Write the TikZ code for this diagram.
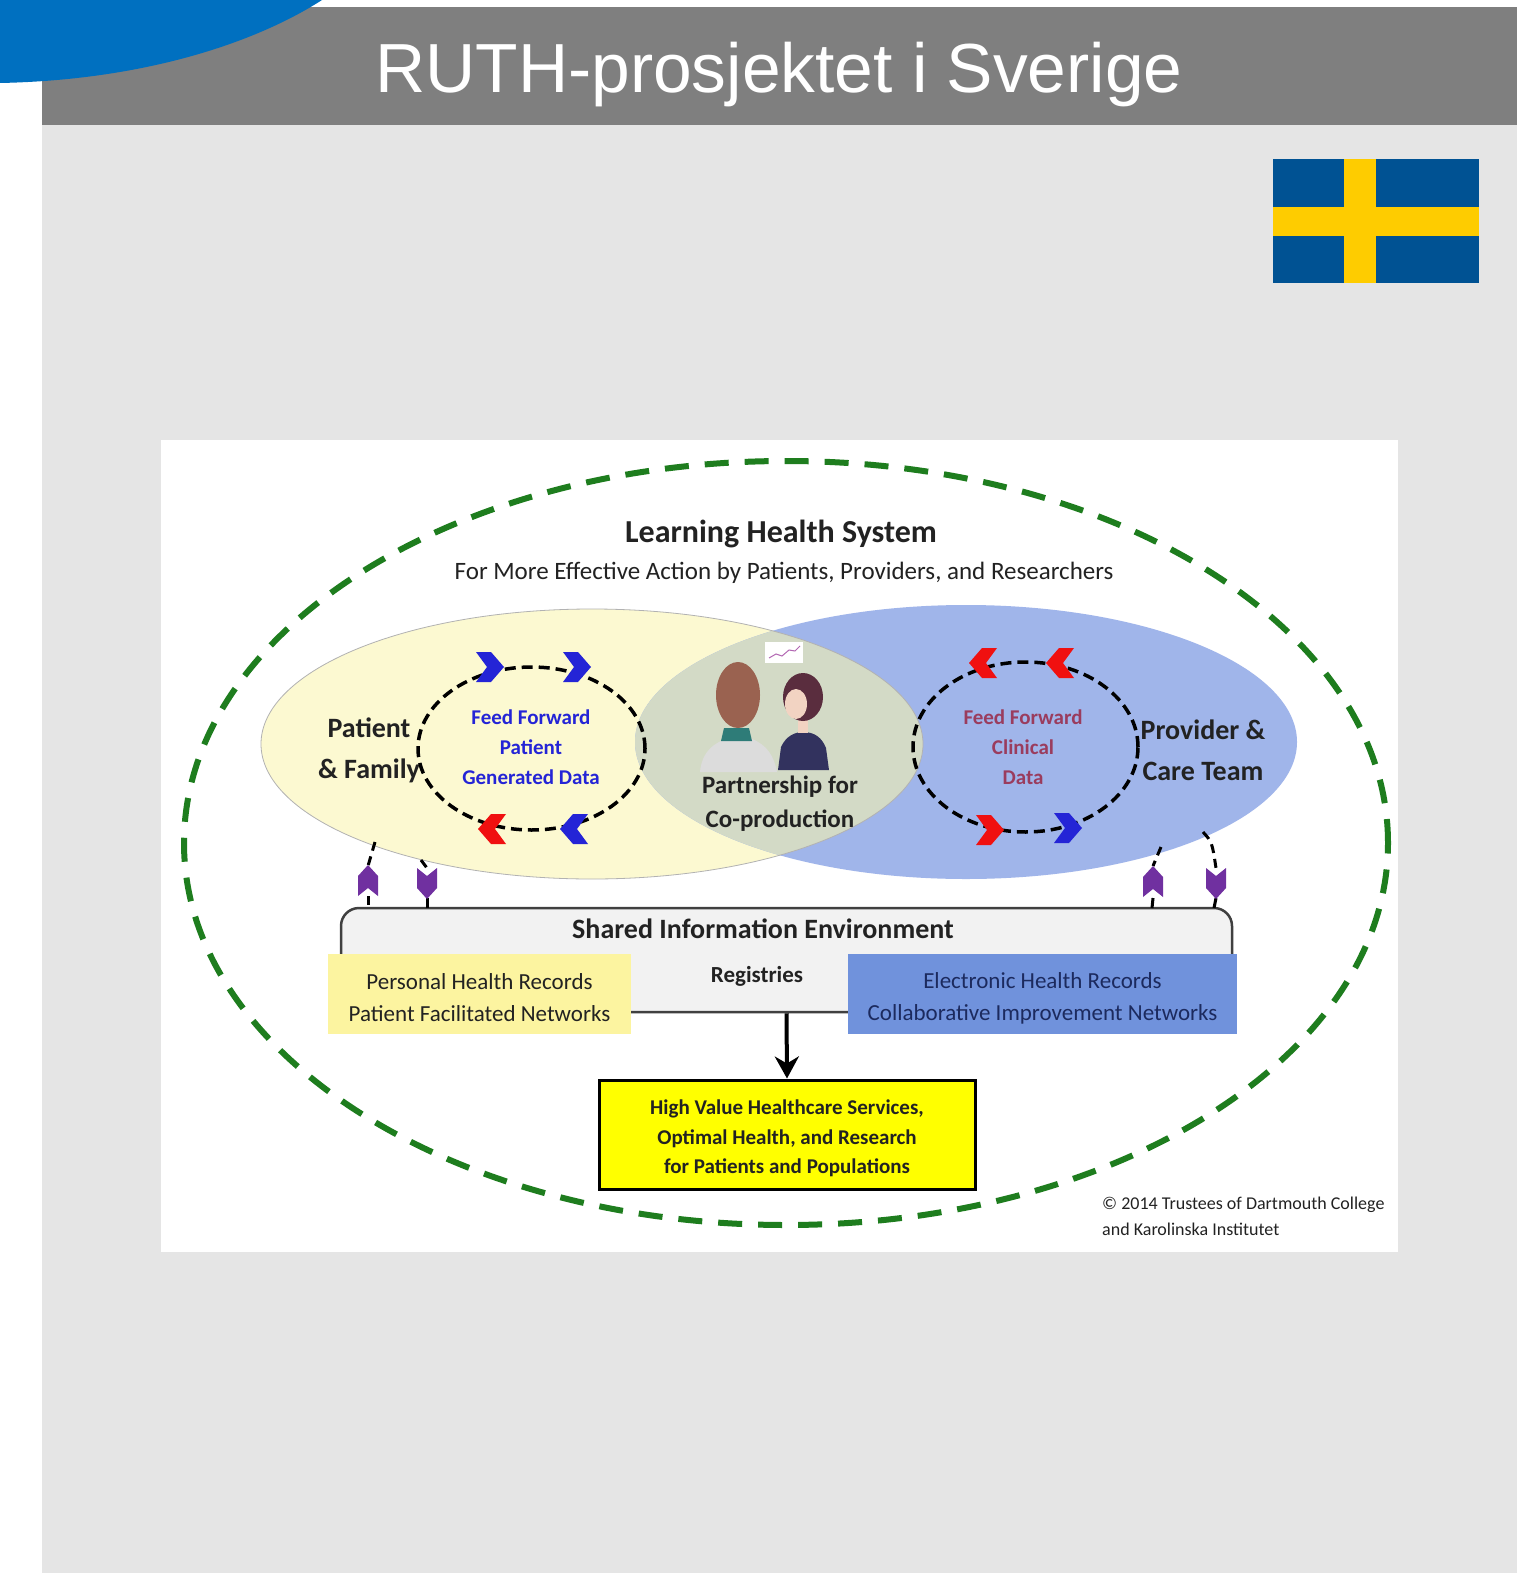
\documentclass[tikz,border=0pt]{standalone}
\usepackage{fontspec}
\setmainfont{Carlito}
\newfontfamily\titlefont{Liberation Sans}
\usetikzlibrary{arrows.meta}

\definecolor{pagegray}{HTML}{E5E5E5}
\definecolor{headgray}{HTML}{7F7F7F}
\definecolor{cornerblue}{HTML}{0070C0}
\definecolor{flagblue}{HTML}{005293}
\definecolor{flagyellow}{HTML}{FECC00}
\definecolor{lhsgreen}{HTML}{1E7D1E}
\definecolor{patfill}{HTML}{FCF9D1}
\definecolor{provfill}{HTML}{A0B5EA}
\definecolor{lensfill}{HTML}{D3DAC6}
\definecolor{phrfill}{HTML}{FCF4A0}
\definecolor{ehrfill}{HTML}{7092DC}
\definecolor{ehrtext}{HTML}{1C2A5E}
\definecolor{sienv}{HTML}{F2F2F2}
\definecolor{loopblue}{HTML}{2424D6}
\definecolor{loopred}{HTML}{F01010}
\definecolor{clinical}{HTML}{9A3C5E}
\definecolor{flowpurple}{HTML}{7030A0}
\definecolor{hairbrown}{HTML}{9A6250}
\definecolor{hairdark}{HTML}{5A2D3E}
\definecolor{skin}{HTML}{F2D3C2}
\definecolor{shirtgray}{HTML}{DCDCDC}
\definecolor{collarteal}{HTML}{2E7C78}
\definecolor{topnavy}{HTML}{32325E}
\definecolor{inktext}{HTML}{222222}
\definecolor{outcomeyellow}{HTML}{FFFF00}

\tikzset{
  boldtext/.style={font=\bfseries, text=inktext, align=center, inner sep=0pt},
  looptext/.style={font=\fontsize{21}{30}\selectfont\bfseries, align=center, inner sep=0pt},
  dataloop/.style={draw=black, line width=3.5pt, dash pattern=on 11pt off 6pt},
  purpleflow/.style={draw=black, line width=3pt, dash pattern=on 9pt off 6pt},
  purplesolid/.style={draw=black, line width=3pt},
  chevron/.pic={\fill (-14,-15) -- (1,-15) -- (14,0) -- (1,15) -- (-14,15) -- (-3,0) -- cycle;},
  flowarrow/.pic={\fill[flowpurple] (0,-16) -- (10,-5) -- (10,15) -- (0,7) -- (-10,15) -- (-10,-5) -- cycle;},
  recordbox/.style={minimum width=303pt, minimum height=80pt, inner sep=0pt, align=center,
    font=\fontsize{23}{32}\selectfont},
}

\begin{document}
\begin{tikzpicture}[x=1pt,y=-1pt]
\useasboundingbox (0,0) rectangle (1538,1573);
\fill[white] (0,0) rectangle (1538,1573);

% slide background and header
\fill[pagegray] (42,125) rectangle (1517,1573);
\fill[headgray] (42,7) rectangle (1517,125);
\fill[cornerblue] (0,0) -- (0,83) .. controls (150,80) and (260,40) .. (322,0) -- cycle;
\node[font=\titlefont\fontsize{69.5}{80}\selectfont, text=white, anchor=base, inner sep=0pt]
  (title) at (779,93) {RUTH-prosjektet i Sverige};

% Swedish flag
\fill[flagblue] (1273,159) rectangle (1479,283);
\fill[flagyellow] (1344,159) rectangle (1376,283);
\fill[flagyellow] (1273,207) rectangle (1479,236);

% diagram panel
\fill[white] (161,440) rectangle (1398,1252);

% learning health system boundary
\draw[lhsgreen, line width=6pt, dash pattern=on 24pt off 16pt] (786,843) ellipse [x radius=602pt, y radius=382pt];

\node[boldtext, font=\fontsize{32}{38}\selectfont\bfseries] (lhs) at (781,534) {Learning Health System};
\node[font=\fontsize{25}{30}\selectfont, text=inktext, inner sep=0pt] (lhssub) at (784,572.5)
  {For More Effective Action by Patients, Providers, and Researchers};

% patient and provider ellipses with their overlap
\fill[patfill] (592,744) ellipse [x radius=331pt, y radius=135pt];
\fill[provfill] (966,742) ellipse [x radius=331pt, y radius=137pt];
\begin{scope}
  \clip (592,744) ellipse [x radius=331pt, y radius=135pt];
  \fill[lensfill] (966,742) ellipse [x radius=331pt, y radius=137pt];
\end{scope}
\draw[gray!60, line width=0.8pt] (592,744) ellipse [x radius=331pt, y radius=135pt];

% people in partnership
\fill[white] (765,642) rectangle (803,663);
\draw[violet!60, line width=1pt] (769,658) -- (776,654) -- (782,656) -- (789,650) -- (795,651) -- (800,646);
\fill[shirtgray] (700,772) .. controls (702,750) and (716,741) .. (733,737) -- (752,739)
  .. controls (767,745) and (774,756) .. (777,772) -- cycle;
\fill[collarteal] (724,728) -- (749,728) -- (752,741) -- (721,741) -- cycle;
\fill[skin] (752,706) ellipse [x radius=6pt, y radius=9pt];
\fill[hairbrown] (738,695) ellipse [x radius=22pt, y radius=33pt];
\fill[topnavy] (778,770) -- (781,747) .. controls (786,736) and (795,732) .. (803,732)
  .. controls (815,732) and (822,738) .. (826,748) -- (829,770) -- cycle;
\fill[skin] (798,718) rectangle (808,733);
\fill[hairdark] (803,697) ellipse [x radius=20pt, y radius=24pt];
\fill[skin] (796,704) ellipse [x radius=11pt, y radius=15pt];

\node[boldtext, font=\fontsize{25}{34}\selectfont\bfseries] (coprod) at (780,804)
  {Partnership for\\Co-production};

% patient side
\node[boldtext, font=\fontsize{28}{41}\selectfont\bfseries] (patient) at (369,750)
  {Patient\\\& Family};
\draw[dataloop] (531.5,748.5) ellipse [x radius=113.5pt, y radius=81.5pt];
\pic[loopblue] at (490,667) {chevron};
\pic[loopblue] at (577,667) {chevron};
\pic[loopred, rotate=180] at (492,829) {chevron};
\pic[loopblue, rotate=180] at (574,829) {chevron};
\node[looptext, text=loopblue] (pgd) at (531,747) {Feed Forward\\Patient\\Generated Data};

% provider side
\node[boldtext, font=\fontsize{28}{41}\selectfont\bfseries] (provider) at (1203,750)
  {Provider \&\\Care Team};
\draw[dataloop] (1025.5,747) ellipse [x radius=112.5pt, y radius=85pt];
\pic[loopred, rotate=180] at (983,663) {chevron};
\pic[loopred, rotate=180] at (1060,663) {chevron};
\pic[loopred] at (990,830) {chevron};
\pic[loopblue] at (1068,828) {chevron};
\node[looptext, text=clinical] (ccd) at (1023,747) {Feed Forward\\Clinical\\Data};

% shared information environment
\node[draw=black!75, line width=2.5pt, fill=sienv, rounded corners=18pt,
  minimum width=891pt, minimum height=104pt, inner sep=0pt] (sie) at (786.5,960) {};
\node[boldtext, font=\fontsize{28}{34}\selectfont\bfseries] (sietitle) at (763,929)
  {Shared Information Environment};
\node[boldtext, font=\fontsize{23}{28}\selectfont\bfseries] (registries) at (757,976) {Registries};
\node[recordbox, fill=phrfill, text=inktext] (phr) at (479.5,994)
  {\rule{0pt}{24pt}Personal Health Records\\Patient Facilitated Networks};
\node[recordbox, fill=ehrfill, text=ehrtext, minimum width=389pt] (ehr) at (1042.5,994)
  {\rule{0pt}{24pt}Electronic Health Records\\Collaborative Improvement Networks};

% links between the care partners and the shared environment
\coordinate (pfup) at (368,866);
\coordinate (pfupend) at (368,896);
\coordinate (pfdown) at (427,868);
\coordinate (pfdownend) at (427,898);
\coordinate (ptup) at (1153,866);
\coordinate (ptupend) at (1153,898);
\coordinate (ptdown) at (1216,868);
\coordinate (ptdownend) at (1216,898);
\coordinate (pfedgeA) at (375,842);
\coordinate (pfedgeB) at (421,860);
\coordinate (ptedgeA) at (1161,847);
\coordinate (ptedgeB) at (1203,832);
\coordinate (siepfA) at (368,908);
\coordinate (siepfB) at (427,908);
\coordinate (sieptA) at (1152,908);
\coordinate (sieptB) at (1214,908);

\draw[purpleflow] (pfedgeA) -- (pfup);
\draw[purpleflow] (pfupend) -- (siepfA);
\draw[purpleflow] (pfedgeB) -- (pfdown);
\draw[purplesolid] (pfdownend) -- (siepfB);
\draw[purpleflow] (ptedgeA) -- (ptup);
\draw[purplesolid] (ptupend) -- (sieptA);
\draw[purpleflow] (ptedgeB) .. controls (1212,842) .. (ptdown);
\draw[purplesolid] (ptdownend) -- (sieptB);
\pic at (368,881) {flowarrow};
\pic[rotate=180] at (427,883) {flowarrow};
\pic at (1153,882) {flowarrow};
\pic[rotate=180] at (1216,883) {flowarrow};

% outcome
\node[draw=black, line width=3pt, fill=outcomeyellow, minimum width=376pt, minimum height=109pt,
  inner sep=0pt, align=center, font=\fontsize{21}{29.5}\selectfont\bfseries, text=inktext]
  (outcome) at (787,1134.5)
  {\rule{0pt}{23pt}High Value Healthcare Services,\\Optimal Health, and Research\\for Patients and Populations};
\draw[line width=4pt, -{Stealth[length=22pt, width=24pt, inset=7pt]}] (sie.south) -- (outcome.north);

% copyright note
\node[anchor=west, align=left, inner sep=0pt, font=\fontsize{18}{26}\selectfont, text=inktext]
  (copyright) at (1102,1216)
  {© 2014 Trustees of Dartmouth College\\and Karolinska Institutet};
\end{tikzpicture}
\end{document}
